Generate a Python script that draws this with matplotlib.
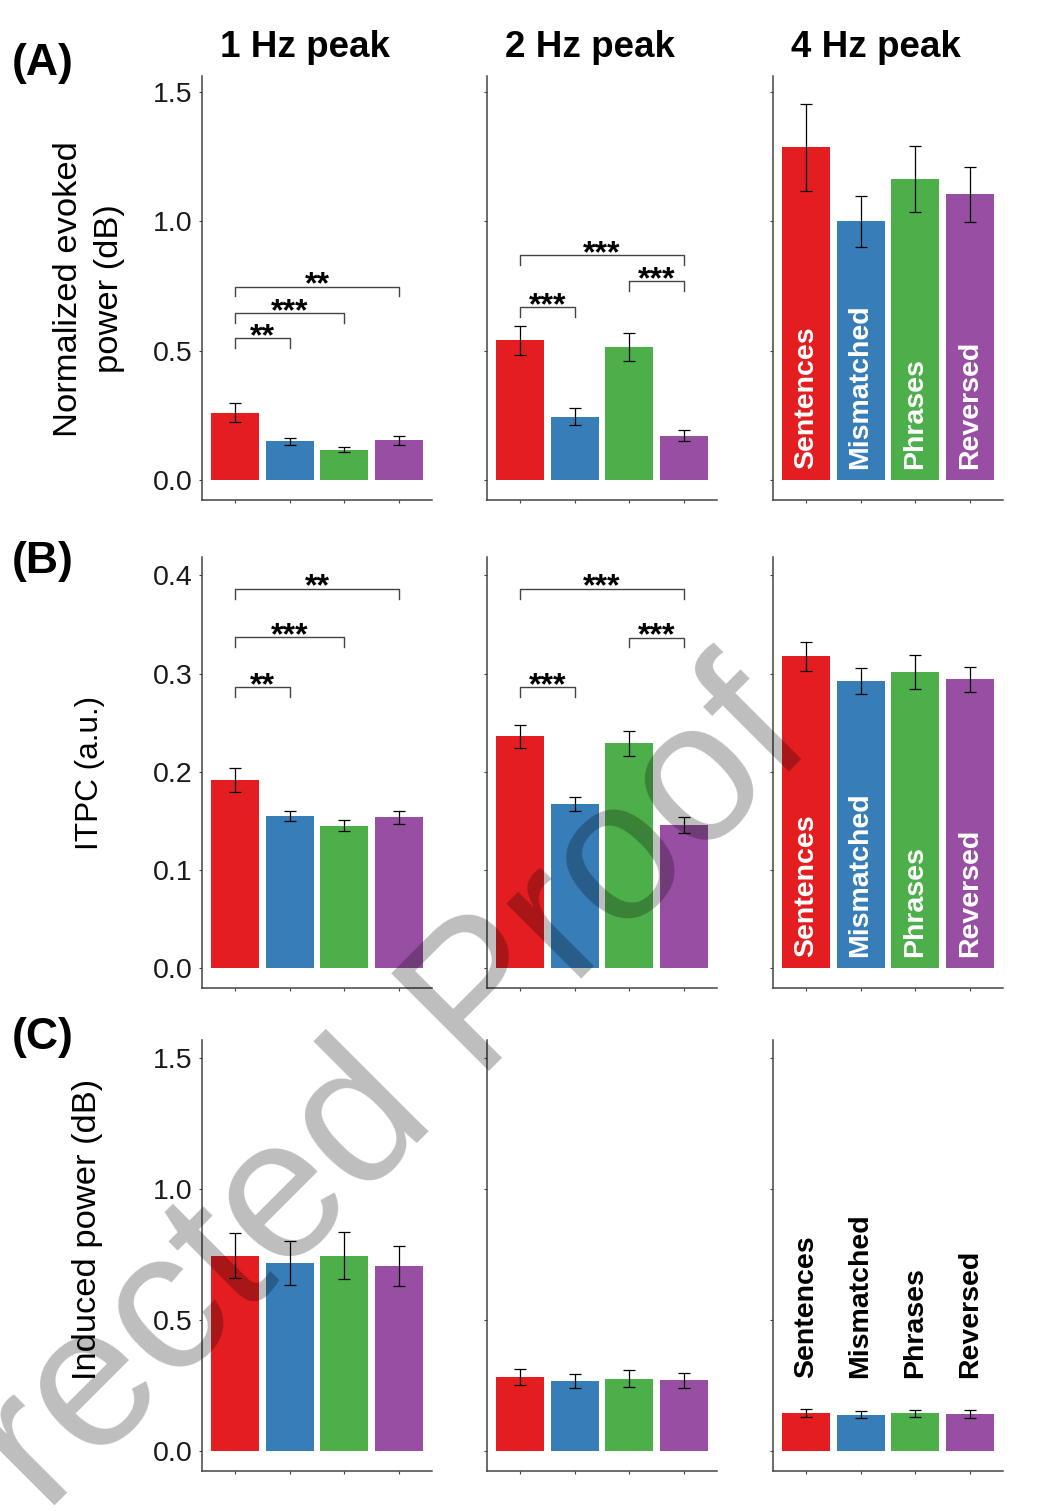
import matplotlib
matplotlib.use('Agg')
import matplotlib.pyplot as plt
import numpy as np

plt.rcParams['font.family'] = ['Liberation Sans', 'DejaVu Sans']

# conditions and colours
conditions = ['Sentences', 'Mismatched', 'Phrases', 'Reversed']
colors = ['#E41E20', '#377EB8', '#4DAF4A', '#984EA3']
col_titles = ['1 Hz peak', '2 Hz peak', '4 Hz peak']
row_tags = ['(A)', '(B)', '(C)']

# (A) normalized evoked power (dB)
evoked_1hz = [0.262, 0.150, 0.119, 0.154]
evoked_1hz_se = [0.036, 0.0135, 0.0095, 0.017]
evoked_2hz = [0.541, 0.246, 0.515, 0.173]
evoked_2hz_se = [0.057, 0.034, 0.053, 0.020]
evoked_4hz = [1.286, 1.000, 1.163, 1.105]
evoked_4hz_se = [0.168, 0.097, 0.127, 0.106]

# (B) ITPC (a.u.)
itpc_1hz = [0.1916, 0.1553, 0.1448, 0.1536]
itpc_1hz_se = [0.0120, 0.0050, 0.0056, 0.0068]
itpc_2hz = [0.2363, 0.1668, 0.2289, 0.1458]
itpc_2hz_se = [0.0118, 0.0070, 0.0130, 0.0077]
itpc_4hz = [0.3177, 0.2926, 0.3017, 0.2940]
itpc_4hz_se = [0.0148, 0.0132, 0.0170, 0.0124]

# (C) induced power (dB)
induced_1hz = [0.746, 0.716, 0.746, 0.706]
induced_1hz_se = [0.0855, 0.084, 0.089, 0.075]
induced_2hz = [0.282, 0.267, 0.277, 0.270]
induced_2hz_se = [0.030, 0.027, 0.033, 0.030]
induced_4hz = [0.146, 0.139, 0.145, 0.141]
induced_4hz_se = [0.0135, 0.0135, 0.014, 0.0145]

# significance brackets: (bar i, bar j, height, stars)
sig_evoked_1hz = [(0, 1, 0.548, '**'), (0, 2, 0.645, '***'), (0, 3, 0.748, '**')]
sig_evoked_2hz = [(0, 1, 0.669, '***'), (2, 3, 0.769, '***'), (0, 3, 0.869, '***')]
sig_itpc_1hz = [(0, 1, 0.2865, '**'), (0, 2, 0.3373, '***'), (0, 3, 0.3866, '**')]
sig_itpc_2hz = [(0, 1, 0.2865, '***'), (2, 3, 0.3367, '***'), (0, 3, 0.3866, '***')]

ylabels = ['Normalized evoked\npower (dB)', 'ITPC (a.u.)', 'Induced power (dB)']
yticks_power = [0.0, 0.5, 1.0, 1.5]
yticks_itpc = [0.0, 0.1, 0.2, 0.3, 0.4]

rows = [
    [(evoked_1hz, evoked_1hz_se, sig_evoked_1hz), (evoked_2hz, evoked_2hz_se, sig_evoked_2hz),
     (evoked_4hz, evoked_4hz_se, [])],
    [(itpc_1hz, itpc_1hz_se, sig_itpc_1hz), (itpc_2hz, itpc_2hz_se, sig_itpc_2hz),
     (itpc_4hz, itpc_4hz_se, [])],
    [(induced_1hz, induced_1hz_se, []), (induced_2hz, induced_2hz_se, []),
     (induced_4hz, induced_4hz_se, [])],
]
row_ylim = [(-0.076, 1.562), (-0.0203, 0.4188), (-0.075, 1.567)]
row_yticks = [yticks_power, yticks_itpc, yticks_power]

W, H = 1043, 1511
fig = plt.figure(figsize=(W / 100, H / 100), dpi=100)

col_left = [202, 487, 773]
panel_w = 230
row_top = [76, 557, 1040]
row_bot = [500, 988, 1471]
spine_c = '#444444'
x = np.arange(1, 5)

for r in range(3):
    for c in range(3):
        means, se, sigs = rows[r][c]
        ax = fig.add_axes([col_left[c] / W, 1 - row_bot[r] / H,
                           panel_w / W, (row_bot[r] - row_top[r]) / H])
        ax.bar(x, means, width=0.88, color=colors, edgecolor='none', zorder=2)
        ax.errorbar(x, means, yerr=se, fmt='none', ecolor='black',
                    elinewidth=0.9, capsize=4, capthick=0.9, zorder=3)
        ax.set_xlim(0.4, 4.6)
        ax.set_ylim(*row_ylim[r])
        ax.set_xticks(x)
        ax.set_xticklabels([])
        ax.set_yticks(row_yticks[r])
        if c == 0:
            ax.set_yticklabels(['%.1f' % t for t in row_yticks[r]])
        else:
            ax.set_yticklabels([])
        for s in ['top', 'right']:
            ax.spines[s].set_visible(False)
        for s in ['left', 'bottom']:
            ax.spines[s].set_color(spine_c)
            ax.spines[s].set_linewidth(1.1)
        ax.tick_params(axis='both', length=2.5, width=0.8, color=spine_c,
                       labelsize=20.5, labelcolor='#1a1a1a', pad=4)

        span = row_ylim[r][1] - row_ylim[r][0]
        tip = 0.023 * span
        for i, j, h, stars in sigs:
            ax.plot([x[i], x[i], x[j], x[j]], [h - tip, h, h, h - tip],
                    color=spine_c, lw=1.0, zorder=4)
            ax.annotate(stars, ((x[i] + x[j]) / 2, h), xytext=(0, -5),
                        textcoords='offset points', ha='center', va='baseline',
                        fontsize=23, fontweight='bold', color='black')

        if c == 2 and r < 2:
            for k in range(4):
                ax.annotate(conditions[k], (x[k], 0), xytext=(0, 8),
                            textcoords='offset points', rotation=90,
                            ha='center', va='bottom', fontsize=20.5,
                            fontweight='bold', color='white', zorder=5)
        if c == 2 and r == 2:
            top = max(m + e for m, e in zip(means, se))
            for k in range(4):
                ax.annotate(conditions[k], (x[k], top), xytext=(0, 23),
                            textcoords='offset points', rotation=90,
                            ha='center', va='bottom', fontsize=20.5,
                            fontweight='bold', color='black', zorder=5)

# column titles
for c in range(3):
    fig.text((col_left[c] + panel_w / 2 - 12) / W, 1 - 57 / H, col_titles[c],
             ha='center', va='baseline', fontsize=26.5, fontweight='bold')

# row tags
for r, yc in enumerate([63, 562, 1037]):
    fig.text(12 / W, 1 - yc / H, row_tags[r], ha='left', va='center',
             fontsize=32, fontweight='bold')

# y labels
fig.text(89 / W, 1 - 289 / H, ylabels[0], rotation=90, ha='center', va='center',
         multialignment='center', fontsize=24.8, linespacing=1.38)
fig.text(90 / W, 1 - 773 / H, ylabels[1], rotation=90, ha='center', va='center',
         fontsize=22.7)
fig.text(88 / W, 1 - 1229 / H, ylabels[2], rotation=90, ha='center', va='center',
         fontsize=24.8)

# watermark
fig.text(317 / W, 1 - 1243 / H, 'Corrected Proof', rotation=45,
         rotation_mode='anchor', ha='center', va='baseline', fontsize=144,
         color='black', alpha=0.26, zorder=20)

fig.savefig('out.png', dpi=100)
